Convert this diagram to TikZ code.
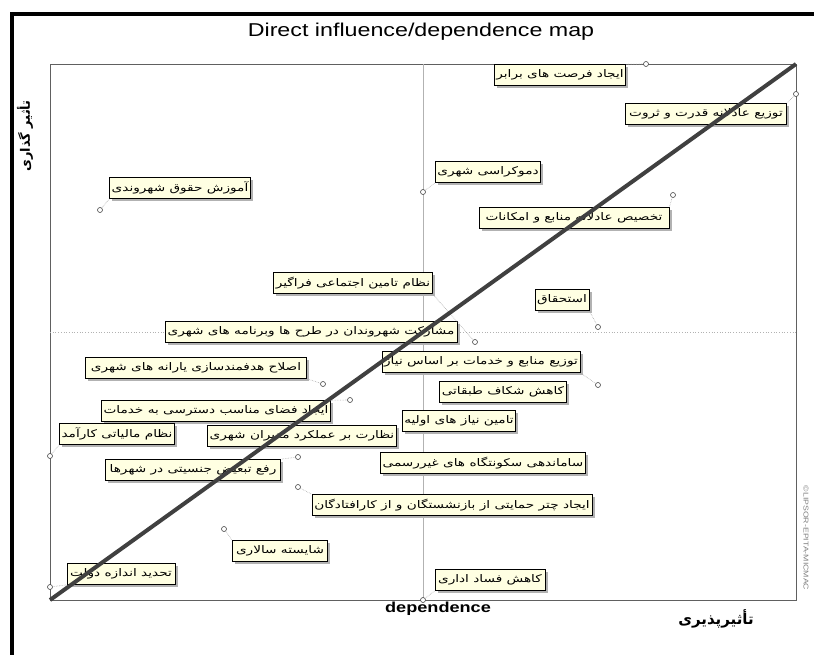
\documentclass[tikz,border=0pt]{standalone}
\usepackage{fontspec}
\usepackage{tikz}
\TeXXeTstate=1
\newfontfamily\arabicfont[Script=Arabic]{DejaVu Sans}
\newfontfamily\widearabic[Script=Arabic,FakeStretch=1.3]{DejaVu Sans}
\newfontfamily\titlefont[FakeStretch=1.25]{Liberation Sans}
\newcommand{\fatxt}[1]{\beginR#1\endR}

\begin{document}
\begin{tikzpicture}[x=1pt,y=-1pt,
  box node/.style={draw=black,line width=0.7pt,fill={rgb,255:red,255;green,255;blue,226},
    preaction={fill=gray!60,transform canvas={xshift=2.5pt,yshift=-2.5pt}},
    minimum height=21pt,inner sep=2pt,font=\widearabic\fontsize{10.5}{12}\selectfont},
  dot node/.style={circle,draw=gray!55!black,fill=white,line width=0.6pt,inner sep=0pt,minimum size=5pt},
  link/.style={gray!70,densely dotted,line width=0.6pt}]

  \useasboundingbox (0,0) rectangle (814,654);
  \clip (0,0) rectangle (814,654);

  % frame and plot area
  \draw[line width=4pt] (12,660) -- (12,14) -- (820,14);
  \draw[gray!75!black,line width=0.8pt] (50,64) rectangle (796,600);
  \draw[gray!60,line width=0.5pt] (423,64) -- (423,600);
  \draw[gray!60,dotted,line width=0.7pt] (50,332) -- (796,332);

  \node[font=\titlefont\fontsize{18.6}{20}\selectfont] (title) at (421,32) {Direct influence/dependence map};
  \node[font=\titlefont\bfseries\fontsize{14.5}{16}\selectfont] (xlab) at (438,609) {dependence};
  \node[font=\arabicfont\bfseries\fontsize{15}{17}\selectfont] (xfa) at (716,619) {\fatxt{تأثیرپذیری}};
  \node[rotate=90,font=\arabicfont\bfseries\fontsize{13}{15}\selectfont] (yfa) at (25,136) {\fatxt{تأثیر گذاری}};
  \node[rotate=-90,text=gray,font=\titlefont\fontsize{7}{8}\selectfont] (mark) at (806,538) {\textcopyright LIPSOR-EPITA-MICMAC};

  % points
  \node[dot node] (p1) at (646,64) {};
  \node[dot node] (p2) at (796,94) {};
  \node[dot node] (p3) at (423,192) {};
  \node[dot node] (p4) at (673,195) {};
  \node[dot node] (p5) at (100,210) {};
  \node[dot node] (p6) at (475,342) {};
  \node[dot node] (p8) at (598,327) {};
  \node[dot node] (p9) at (598,385) {};
  \node[dot node] (p11) at (323,384) {};
  \node[dot node] (p12) at (350,400) {};
  \node[dot node] (p14) at (50,456) {};
  \node[dot node] (p17) at (298,457) {};
  \node[dot node] (p18) at (298,487) {};
  \node[dot node] (p19) at (224,529) {};
  \node[dot node] (p20) at (50,587) {};
  \node[dot node] (p21) at (423,600) {};

  % labels
  \node[box node,minimum width=126] (b1) at (560,75) {\fatxt{ایجاد فرصت های برابر}};
  \node[box node,minimum width=161] (b2) at (706,114) {\fatxt{توزیع عادلانه قدرت و ثروت}};
  \node[box node,minimum width=105] (b3) at (488,172) {\fatxt{دموکراسی شهری}};
  \node[box node,minimum width=190] (b4) at (574,218) {\fatxt{تخصیص عادلانه منابع و امکانات}};
  \node[box node,minimum width=140] (b5) at (180,188) {\fatxt{آموزش حقوق شهروندی}};
  \node[box node,minimum width=154] (b6) at (353,283) {\fatxt{نظام تامین اجتماعی فراگیر}};
  \node[box node,minimum width=292] (b7) at (311,332) {\fatxt{مشارکت شهروندان در طرح ها وبرنامه های شهری}};
  \node[box node,minimum width=54] (b8) at (562,300) {\fatxt{استحقاق}};
  \node[box node,minimum width=198] (b9) at (481,362) {\fatxt{توزیع منابع و خدمات بر اساس نیاز}};
  \node[box node,minimum width=125] (b10) at (503,392) {\fatxt{کاهش شکاف طبقاتی}};
  \node[box node,minimum width=221] (b11) at (196,368) {\fatxt{اصلاح هدفمندسازی یارانه های شهری}};
  \node[box node,minimum width=228] (b12) at (216,411) {\fatxt{ایجاد فضای مناسب دسترسی به خدمات}};
  \node[box node,minimum width=111] (b13) at (459,421) {\fatxt{تامین نیاز های اولیه}};
  \node[box node,minimum width=111] (b14) at (117,434) {\fatxt{نظام مالیاتی کارآمد}};
  \node[box node,minimum width=188] (b15) at (302,436) {\fatxt{نظارت بر عملکرد مدیران شهری}};
  \node[box node,minimum width=203] (b16) at (483,463) {\fatxt{ساماندهی سکونتگاه های غیررسمی}};
  \node[box node,minimum width=175] (b17) at (193,470) {\fatxt{رفع تبعیض جنسیتی در شهرها}};
  \node[box node,minimum width=280] (b18) at (452,505) {\fatxt{ایجاد چتر حمایتی از بازنشستگان و از کارافتادگان}};
  \node[box node,minimum width=95] (b19) at (280,551) {\fatxt{شایسته سالاری}};
  \node[box node,minimum width=108] (b20) at (121,574) {\fatxt{تحدید اندازه دولت}};
  \node[box node,minimum width=110] (b21) at (490,580) {\fatxt{کاهش فساد اداری}};

  \path[link]
    (p1) edge (b1.north east)
    (p2) edge (b2.north east)
    (p3) edge (b3.south west)
    (p4) edge (b4.north east)
    (p5) edge (b5.south west)
    (p6) edge (b6.south east)
    (p8) edge (b8.south east)
    (p9) edge (b9.south east)
    (p11) edge (b11.south east)
    (p12) edge (b12.north east)
    (p14) edge (b14.south west)
    (p17) edge (b17.north east)
    (p18) edge (b18.north west)
    (p19) edge (b19.north west)
    (p20) edge (b20.south west)
    (p21) edge (b21.south west);

  % diagonal
  \coordinate (orig) at (50,600);
  \coordinate (corner) at (796,64);
  \draw[line width=4pt,black!75] (orig) -- (corner);
\end{tikzpicture}
\end{document}
